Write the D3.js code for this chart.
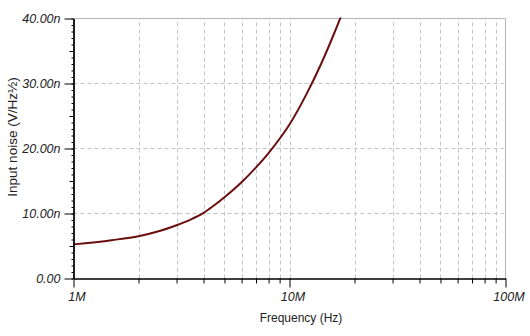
<!DOCTYPE html>
<html>
<head>
<meta charset="utf-8">
<script src="https://cdn.jsdelivr.net/npm/d3@7"></script>
<style>
  body { margin: 0; background: #fff; }
  text { font-family: "Liberation Sans", Arial, sans-serif; }
</style>
</head>
<body>
<div id="chart"></div>
<script>
// noise curve (Hz, nV/rtHz)
var freq  = [1e6, 1.5e6, 2e6, 2.5e6, 3e6, 3.5e6, 4e6, 4.5e6, 5e6, 6e6, 7e6, 8e6, 9e6, 10e6, 12e6, 14e6, 16e6, 17.3e6, 18e6];
var noise = [5.25, 5.9, 6.5, 7.3, 8.2, 9.1, 10.1, 11.3, 12.5, 14.8, 17.1, 19.3, 21.5, 23.7, 28.4, 33.0, 37.5, 40.3, 41.8];

var xMajor = [1e6, 1e7, 1e8];
var xMajorLabels = ["1M", "10M", "100M"];
var xMinor = [2e6, 3e6, 4e6, 5e6, 6e6, 7e6, 8e6, 9e6, 2e7, 3e7, 4e7, 5e7, 6e7, 7e7, 8e7, 9e7];
var yMajor = [0, 10, 20, 30, 40];
var yMajorLabels = ["0.00", "10.00n", "20.00n", "30.00n", "40.00n"];
var yMid = [5, 15, 25, 35];
var yMinor = d3.range(0, 41, 1);

var W = 530, H = 336;
var svg = d3.select("#chart").append("svg")
    .attr("width", W)
    .attr("height", H);

var x = d3.scaleLog().domain([1e6, 1e8]).range([73.5, 505.5]);
var y = d3.scaleLinear().domain([0, 40]).range([278.5, 18.5]);

// grid
var grid = svg.append("g").attr("stroke", "#c4c4c4").attr("stroke-width", 1)
    .attr("stroke-dasharray", "4,3");
grid.selectAll(".vg").data(xMinor.concat([1e7])).enter().append("line")
    .attr("x1", d => Math.round(x(d)) + 0.5).attr("x2", d => Math.round(x(d)) + 0.5)
    .attr("y1", y(0)).attr("y2", y(40));
grid.selectAll(".hg").data([10, 20, 30]).enter().append("line")
    .attr("x1", x(1e6)).attr("x2", x(1e8))
    .attr("y1", d => y(d)).attr("y2", d => y(d));

// top and right border
svg.append("path")
    .attr("d", "M" + x(1e6) + "," + y(40) + "H" + x(1e8) + "V" + y(0))
    .attr("fill", "none").attr("stroke", "#b4b4b4");

// curve
svg.append("clipPath").attr("id", "clip").append("rect")
    .attr("x", x(1e6)).attr("y", y(40) - 1)
    .attr("width", x(1e8) - x(1e6)).attr("height", y(0) - y(40) + 1);

var line = d3.line()
    .x((d, i) => x(freq[i]))
    .y(d => y(d))
    .curve(d3.curveMonotoneX);

svg.append("path")
    .datum(noise)
    .attr("clip-path", "url(#clip)")
    .attr("d", line)
    .attr("fill", "none")
    .attr("stroke", "#6b0e0e")
    .attr("stroke-width", 2);

// y axis
function yAxis(vals, size, labels) {
  var g = svg.append("g").attr("transform", "translate(" + x(1e6) + ",0)")
      .call(d3.axisLeft(y).tickValues(vals).tickSize(size).tickSizeOuter(0)
        .tickFormat((d, i) => labels ? labels[i] : ""));
  g.selectAll("line").attr("stroke", "#000");
  g.select(".domain").attr("stroke", "#000");
  g.selectAll("text").attr("fill", "#222").attr("font-size", "12.5px")
    .attr("font-style", "italic").attr("x", -13)
    .attr("font-family", "'Liberation Sans', Arial, sans-serif");
}
yAxis(yMinor, 2);
yAxis(yMid, 4);
yAxis(yMajor, 9, yMajorLabels);

// x axis
function xAxis(vals, size, labels) {
  var g = svg.append("g").attr("transform", "translate(0," + y(0) + ")")
      .call(d3.axisBottom(x).tickValues(vals).tickSize(size).tickSizeOuter(0)
        .tickFormat((d, i) => labels ? labels[i] : ""));
  g.selectAll("line").attr("stroke", "#000");
  g.select(".domain").attr("stroke", "#000");
  g.selectAll("text").attr("fill", "#222").attr("font-size", "12.5px")
    .attr("font-style", "italic").attr("y", 14).attr("dx", 3)
    .attr("font-family", "'Liberation Sans', Arial, sans-serif");
}
xAxis(xMinor, 5);
xAxis(xMajor, 9, xMajorLabels);

// axis titles
svg.append("text")
    .attr("x", 301).attr("y", 322)
    .attr("text-anchor", "middle")
    .attr("font-size", "12px").attr("fill", "#222")
    .text("Frequency (Hz)");

svg.append("text")
    .attr("transform", "translate(17,137) rotate(-90)")
    .attr("text-anchor", "middle")
    .attr("font-size", "13.5px").attr("fill", "#222")
    .text("Input noise (V/Hz½)");
</script>
</body>
</html>
